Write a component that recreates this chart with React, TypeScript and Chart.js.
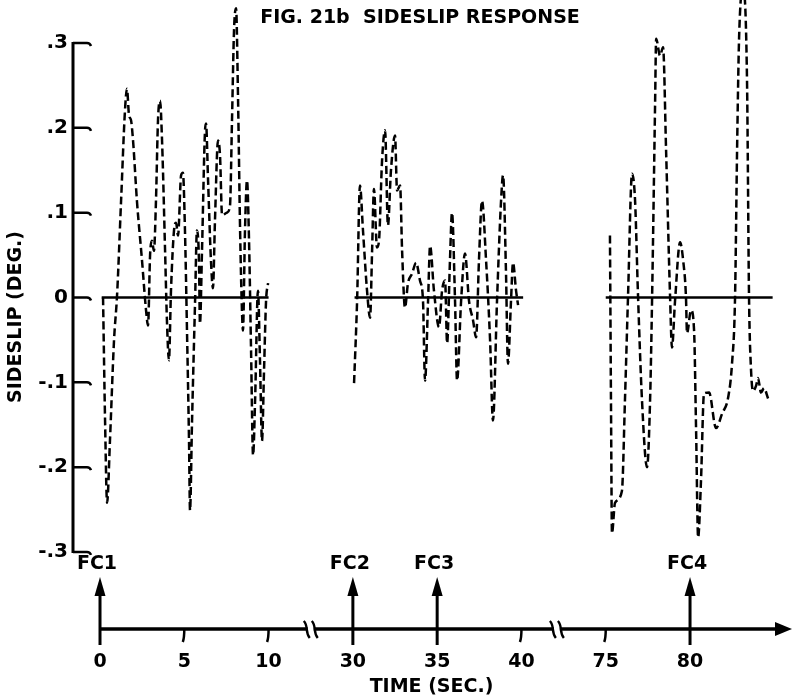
import React, { useEffect, useRef } from 'react';
import { Chart, registerables } from 'chart.js';

Chart.register(...registerables);

// ---- data (time in seconds, sideslip in degrees) ----
const seg1Time = [0.18, 0.30, 0.42, 0.59, 0.83, 1.01, 1.25, 1.48, 1.60, 1.72, 1.84, 1.96, 2.19, 2.49, 2.73, 2.85, 2.97, 3.08, 3.20, 3.32, 3.44, 3.56, 3.68, 3.86, 3.97, 4.09, 4.21, 4.39, 4.51, 4.63, 4.81, 4.92, 5.04, 5.16, 5.28, 5.34, 5.46, 5.64, 5.75, 5.87, 5.93, 6.05, 6.23, 6.29, 6.41, 6.58, 6.70, 6.82, 7.00, 7.12, 7.24, 7.53, 7.71, 7.83, 7.95, 8.07, 8.19, 8.31, 8.42, 8.48, 8.60, 8.72, 8.84, 8.96, 9.08, 9.20, 9.37, 9.49, 9.61, 9.73, 9.85, 9.97];
const seg1Value = [0, -0.145, -0.242, -0.169, -0.051, 0.002, 0.114, 0.220, 0.246, 0.215, 0.209, 0.185, 0.114, 0.044, -0.015, -0.033, 0.050, 0.067, 0.055, 0.114, 0.209, 0.232, 0.185, 0.055, -0.027, -0.074, 0.008, 0.079, 0.088, 0.073, 0.144, 0.147, 0.079, -0.039, -0.169, -0.251, -0.145, -0.004, 0.079, 0.044, -0.031, 0.055, 0.197, 0.205, 0.138, 0.044, 0.011, 0.091, 0.185, 0.167, 0.097, 0.100, 0.108, 0.209, 0.315, 0.341, 0.232, 0.079, -0.015, -0.039, 0.079, 0.138, 0.067, -0.062, -0.186, -0.121, 0.008, -0.074, -0.169, -0.086, -0.004, 0.017];

const seg2Time = [30.07, 30.25, 30.42, 30.60, 30.84, 31.02, 31.14, 31.25, 31.43, 31.55, 31.73, 31.91, 32.08, 32.26, 32.50, 32.62, 32.80, 32.92, 33.09, 33.27, 33.51, 33.75, 33.98, 34.16, 34.28, 34.46, 34.58, 34.81, 35.11, 35.29, 35.47, 35.59, 35.76, 35.88, 36.06, 36.18, 36.42, 36.65, 36.89, 37.13, 37.31, 37.48, 37.66, 37.90, 38.14, 38.31, 38.55, 38.79, 38.91, 39.08, 39.20, 39.38, 39.50, 39.68, 39.80];
const seg2Value = [-0.101, -0.004, 0.132, 0.079, 0.008, -0.024, 0.055, 0.128, 0.059, 0.067, 0.161, 0.197, 0.085, 0.150, 0.191, 0.126, 0.132, 0.055, -0.012, 0.017, 0.028, 0.041, 0.020, -0.004, -0.098, -0.004, 0.061, 0.008, -0.035, 0.008, 0.020, -0.054, 0.044, 0.100, -0.004, -0.098, -0.004, 0.052, -0.004, -0.027, -0.047, 0.044, 0.114, 0.044, -0.051, -0.145, -0.004, 0.114, 0.144, 0.032, -0.078, -0.004, 0.041, 0.008, -0.009];

const seg3Time = [75.25, 75.31, 75.37, 75.55, 75.96, 76.14, 76.32, 76.56, 76.74, 76.91, 77.15, 77.45, 77.63, 77.75, 77.93, 77.99, 78.22, 78.40, 78.58, 78.81, 78.93, 79.11, 79.41, 79.59, 79.76, 79.82, 80.06, 80.24, 80.36, 80.48, 80.65, 80.83, 81.13, 81.54, 81.90, 82.26, 82.49, 82.67, 82.79, 82.91, 83.14, 83.38, 83.50, 83.62, 83.74, 83.92, 84.03, 84.21, 84.39, 84.63];
const seg3Value = [0.073, -0.121, -0.278, -0.242, -0.228, -0.121, 0.000, 0.146, 0.114, 0.005, -0.121, -0.200, -0.121, 0.000, 0.232, 0.305, 0.285, 0.295, 0.173, 0.005, -0.059, -0.004, 0.065, 0.044, 0.000, -0.042, -0.015, -0.039, -0.157, -0.283, -0.216, -0.113, -0.112, -0.154, -0.137, -0.118, -0.078, 0.000, 0.173, 0.306, 0.364, 0.256, 0.000, -0.086, -0.110, -0.104, -0.095, -0.112, -0.107, -0.119];

const zeroLineStart = [0.1, 30.1, 75.0];
const zeroLineEnd = [10.0, 40.1, 84.9];

const xTickTimes = [0, 5, 10, 30, 35, 40, 75, 80];
const xTickLabels = ['0', '5', '10', '30', '35', '40', '75', '80'];
const yTickValues = [-0.3, -0.2, -0.1, 0, 0.1, 0.2, 0.3];
const yTickLabels = ['-.3', '-.2', '-.1', '0', '.1', '.2', '.3'];
const fcTimes = [0, 30, 35, 80];
const fcLabels = ['FC1', 'FC2', 'FC3', 'FC4'];

// broken time axis: later stretches are shifted left so the gaps collapse
const segmentStarts = [0, 20, 57.5];
const segmentShifts = [0, 15, 45];
const axisBreaks = [12.5, 27.1]; // positions of the break marks, axis units

function axisPos(t: number): number {
  let s = 0;
  for (let i = 0; i < segmentStarts.length; i++) if (t >= segmentStarts[i]) s = segmentShifts[i];
  return t - s;
}

const FONT = 'DejaVu Sans';

const decor = {
  id: 'decor',
  afterDraw(chart: any) {
    const { ctx, chartArea: ca } = chart;
    const xs = chart.scales.x;
    const ys = chart.scales.y;
    ctx.save();
    ctx.strokeStyle = '#000';
    ctx.fillStyle = '#000';
    ctx.lineCap = 'butt';

    // y axis
    const yTop = ys.getPixelForValue(0.3);
    const yBot = ys.getPixelForValue(-0.3);
    ctx.lineWidth = 3;
    ctx.beginPath();
    ctx.moveTo(ca.left, yTop - 1);
    ctx.lineTo(ca.left, yBot + 1);
    ctx.stroke();
    ctx.lineWidth = 2.5;
    for (const v of yTickValues) {
      const p = ys.getPixelForValue(v);
      ctx.beginPath();
      ctx.moveTo(ca.left, p);
      ctx.lineTo(ca.left + 14, p);
      ctx.quadraticCurveTo(ca.left + 17, p, ca.left + 18, p + 3);
      ctx.stroke();
    }

    // x axis with arrow
    const y0 = ca.bottom;
    const xStart = xs.getPixelForValue(0);
    const xEnd = ca.right + 2;
    ctx.lineWidth = 3.5;
    ctx.beginPath();
    ctx.moveTo(xStart, y0);
    ctx.lineTo(xEnd - 14, y0);
    ctx.stroke();
    ctx.beginPath();
    ctx.moveTo(xEnd, y0);
    ctx.lineTo(xEnd - 17, y0 - 7);
    ctx.lineTo(xEnd - 17, y0 + 7);
    ctx.closePath();
    ctx.fill();

    // break marks
    ctx.lineWidth = 2.4;
    for (const b of axisBreaks) {
      const px = xs.getPixelForValue(b);
      ctx.fillStyle = '#fff';
      ctx.fillRect(px - 3, y0 - 3, 6, 6);
      ctx.fillStyle = '#000';
      for (const dx of [-4, 4]) {
        ctx.beginPath();
        ctx.moveTo(px + dx - 3, y0 - 8);
        ctx.bezierCurveTo(px + dx + 2, y0 - 3, px + dx - 2, y0 + 3, px + dx + 3, y0 + 9);
        ctx.stroke();
      }
    }

    // tick marks under the axis
    ctx.lineWidth = 2.5;
    for (const t of xTickTimes) {
      if (fcTimes.includes(t)) continue;
      const px = xs.getPixelForValue(axisPos(t));
      ctx.beginPath();
      ctx.moveTo(px, y0);
      ctx.quadraticCurveTo(px, y0 + 9, px - 1.5, y0 + 13);
      ctx.stroke();
    }

    // FC arrows and labels
    ctx.font = `bold 19px "${FONT}"`;
    ctx.textAlign = 'center';
    ctx.textBaseline = 'middle';
    fcTimes.forEach((t, i) => {
      const px = xs.getPixelForValue(axisPos(t));
      ctx.lineWidth = 3;
      ctx.beginPath();
      ctx.moveTo(px, y0 + 16);
      ctx.lineTo(px, y0 - 36);
      ctx.stroke();
      ctx.beginPath();
      ctx.moveTo(px, y0 - 52);
      ctx.lineTo(px - 5.5, y0 - 33);
      ctx.lineTo(px + 5.5, y0 - 33);
      ctx.closePath();
      ctx.fill();
      ctx.fillText(fcLabels[i], px - 3, y0 - 65);
    });

    // chart title
    ctx.font = `bold 19px "${FONT}"`;
    ctx.textAlign = 'center';
    ctx.fillText('FIG. 21b  SIDESLIP RESPONSE', 420, 18);

    // y axis title
    ctx.save();
    ctx.translate(16, 317);
    ctx.rotate(-Math.PI / 2);
    ctx.font = `bold 19px "${FONT}"`;
    ctx.fillText('SIDESLIP (DEG.)', 0, 0);
    ctx.restore();

    ctx.restore();
  },
};

function series(times: number[], values: number[]) {
  return times.map((t, i) => ({ x: axisPos(t), y: values[i] }));
}

export default function App() {
  const ref = useRef<HTMLCanvasElement>(null);
  useEffect(() => {
    if (!ref.current) return;
    Chart.defaults.font.family = FONT;
    Chart.defaults.color = '#000';
    const dashed = (d: any) => ({
      data: d,
      borderColor: '#000',
      borderWidth: 2.5,
      borderDash: [8, 4],
      pointRadius: 0,
      cubicInterpolationMode: 'monotone',
      clip: false,
      fill: false,
    });
    const zeroSets = zeroLineStart.map((s, i) => ({
      data: [
        { x: axisPos(s), y: 0 },
        { x: axisPos(zeroLineEnd[i]), y: 0 },
      ],
      borderColor: '#000',
      borderWidth: 2.5,
      pointRadius: 0,
      fill: false,
    }));
    const chart = new Chart(ref.current, {
      type: 'line',
      data: {
        datasets: [
          ...zeroSets,
          dashed(series(seg1Time, seg1Value)),
          dashed(series(seg2Time, seg2Value)),
          dashed(series(seg3Time, seg3Value)),
        ] as any,
      },
      options: {
        animation: false,
        responsive: false,
        devicePixelRatio: 1,
        layout: { padding: { top: 43, right: 2, left: 0, bottom: 0 } },
        plugins: { legend: { display: false }, tooltip: { enabled: false } },
        scales: {
          x: {
            type: 'linear',
            min: -1.602,
            max: 40.93,
            grid: { display: false, drawTicks: false },
            border: { display: false },
            afterBuildTicks: (scale: any) => {
              scale.ticks = xTickTimes.map((t) => ({ value: axisPos(t) }));
            },
            afterFit: (scale: any) => {
              scale.height = 70;
            },
            ticks: {
              autoSkip: false,
              maxRotation: 0,
              padding: 22,
              font: { size: 19, weight: 'bold' },
              callback: (_v: any, i: number) => xTickLabels[i],
            },
            title: {
              display: true,
              text: 'TIME (SEC.)',
              font: { size: 19, weight: 'bold' },
              padding: { top: 0, bottom: 1 },
            },
          },
          y: {
            type: 'linear',
            min: -0.3908,
            max: 0.3,
            grid: { display: false, drawTicks: false },
            border: { display: false },
            afterBuildTicks: (scale: any) => {
              scale.ticks = yTickValues.map((v) => ({ value: v }));
            },
            afterFit: (scale: any) => {
              scale.width = 73;
            },
            ticks: {
              padding: 5,
              font: { size: 20, weight: 'bold' },
              callback: (_v: any, i: number) => yTickLabels[i],
            },
          },
        },
      },
      plugins: [decor],
    });
    return () => chart.destroy();
  }, []);
  return (
    <div style={{ position: 'fixed', left: 0, top: 0, width: 792, height: 699, background: '#fff' }}>
      <canvas ref={ref} width={792} height={699} />
    </div>
  );
}
